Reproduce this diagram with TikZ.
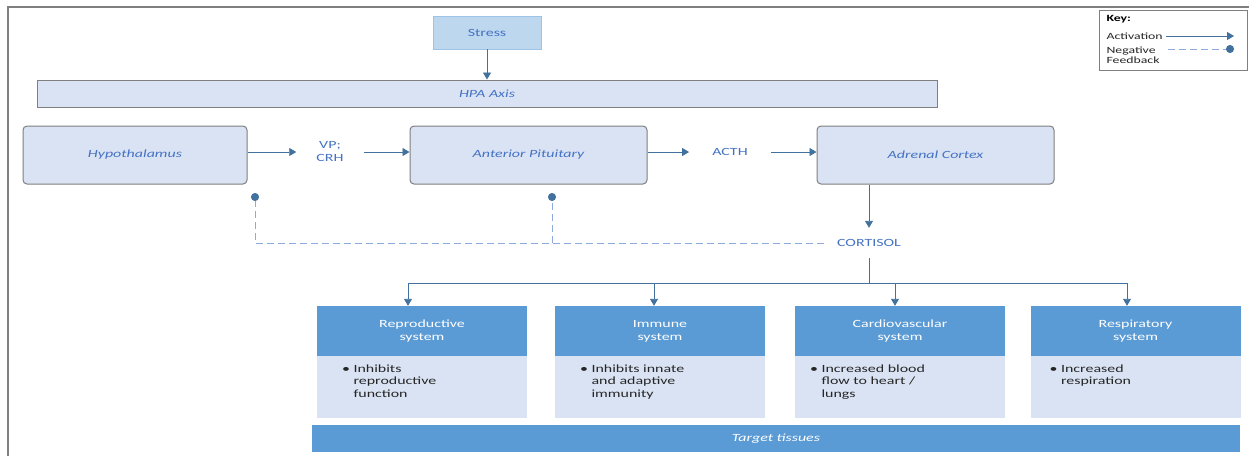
\documentclass[tikz,border=0pt]{standalone}
\usepackage{fontspec}
\setmainfont{Carlito}[FakeStretch=1.45]
\usepackage{tikz}
\usetikzlibrary{positioning}
\usetikzlibrary{arrows.meta}
\definecolor{txtblue}{HTML}{4472C4}
\definecolor{arrblue}{HTML}{41719C}
\definecolor{paleblue}{HTML}{DAE3F3}
\definecolor{stressblue}{HTML}{BDD7EE}
\definecolor{stressline}{HTML}{9DC3E6}
\definecolor{midblue}{HTML}{5B9BD5}
\definecolor{dashblue}{HTML}{8FAADC}
\definecolor{boxgray}{HTML}{7F7F7F}

\begin{document}
\begin{tikzpicture}[x=1pt, y=-1pt, font=\fontsize{11}{13}\selectfont]
		\tikzstyle{organ}=[rectangle, rounded corners=4pt, fill=paleblue, draw=boxgray, line width=1pt, minimum width=237pt, minimum height=58pt, text=txtblue, font=\fontsize{11}{13}\selectfont\itshape]
		\tikzstyle{act}=[draw=arrblue, line width=0.9pt, -{Triangle[length=7pt,width=8pt]}]
		\tikzstyle{feedback}=[draw=dashblue, line width=0.9pt, dash pattern=on 7pt off 4pt, -{Circle[length=8pt,width=8pt,color=arrblue]}]
		\tikzstyle{hormone}=[text=txtblue, align=center]
		\tikzstyle{head}=[rectangle, fill=midblue, minimum width=210pt, minimum height=50pt, text=white, align=center]
		\tikzstyle{body}=[rectangle, fill=paleblue, minimum width=210pt, minimum height=62pt]
		\tikzstyle{bullets}=[anchor=north west, inner sep=0pt, text=black!85, align=left, font=\fontsize{11}{12.5}\selectfont]
		\useasboundingbox (0,0) rectangle (1249,456);
		\draw[boxgray, line width=1.2pt] (1249,7) -- (8,7) -- (8,456);

		\node[rectangle, fill=stressblue, draw=stressline, line width=0.8pt, minimum width=108pt, minimum height=33pt, text=txtblue] (stress) at (487,32.5) {Stress};
		\node[rectangle, fill=paleblue, draw=boxgray, line width=1pt, minimum width=900pt, minimum height=27pt, text=txtblue, font=\fontsize{11}{13}\selectfont\itshape] (hpa) at (487,93.5) {HPA Axis};
		\path (stress) edge[act] (hpa);

		\node[organ, minimum width=224pt] (hypo) at (135,155) {Hypothalamus};
		\node[organ] (antpit) at (528.5,155) {Anterior Pituitary};
		\node[organ] (adrenal) at (935.5,155) {Adrenal Cortex};
		\node[hormone, inner xsep=20pt] (vp) at (330,152) {VP;\\CRH};
		\node[hormone, inner xsep=23pt] (acth) at (730,152) {ACTH};
		\path (hypo.east |- vp) edge[act] (vp.west);
		\path (vp.east) edge[act] (vp.east -| antpit.west);
		\path (antpit.east |- acth) edge[act] (acth.west);
		\path (acth.east) edge[act] (acth.east -| adrenal.west);

		\node[hormone, inner xsep=13pt, minimum height=30pt] (cortisol) at (869,243) {CORTISOL};
		\path (adrenal.south -| cortisol) edge[act] (cortisol.north);

		%negative feedback
		\coordinate (fb1) at (255,193);
		\coordinate (fb2) at (552,193);
		\draw[feedback] (cortisol.west) -| (fb1);
		\draw[feedback] (fb2 |- cortisol) -- (fb2);

		%target systems
		\node[head] (reprohead) at (422,331) {Reproductive\\system};
		\node[body, below=0pt of reprohead] (reprobody) {};
		\node[bullets] (reprotext) at ([xshift=25pt,yshift=-7pt]reprobody.north west) {\textbullet~\begin{tabular}[t]{@{}l@{}}Inhibits\\reproductive\\function\end{tabular}};

		\node[head] (immunehead) at (660,331) {Immune\\system};
		\node[body, below=0pt of immunehead] (immunebody) {};
		\node[bullets] (immunetext) at ([xshift=25pt,yshift=-7pt]immunebody.north west) {\textbullet~\begin{tabular}[t]{@{}l@{}}Inhibits innate\\and adaptive\\immunity\end{tabular}};

		\node[head] (cardiohead) at (900,331) {Cardiovascular\\system};
		\node[body, below=0pt of cardiohead] (cardiobody) {};
		\node[bullets] (cardiotext) at ([xshift=15pt,yshift=-7pt]cardiobody.north west) {\textbullet~\begin{tabular}[t]{@{}l@{}}Increased blood\\flow to heart /\\lungs\end{tabular}};

		\node[head] (resphead) at (1135.5,331) {Respiratory\\system};
		\node[body, below=0pt of resphead] (respbody) {};
		\node[bullets] (resptext) at ([xshift=19pt,yshift=-7pt]respbody.north west) {\textbullet~\begin{tabular}[t]{@{}l@{}}Increased\\respiration\end{tabular}};

		\coordinate (split) at (869,283);
		\coordinate (b1) at (408,283);
		\coordinate (b2) at (654,283);
		\coordinate (b3) at (895,283);
		\coordinate (b4) at (1127,283);
		\draw[arrblue, line width=0.9pt] (cortisol.south) -- (split);
		\draw[arrblue, line width=0.9pt] (b1) -- (b4);
		\path (b1) edge[act] (b1 |- reprohead.north);
		\path (b2) edge[act] (b2 |- immunehead.north);
		\path (b3) edge[act] (b3 |- cardiohead.north);
		\path (b4) edge[act] (b4 |- resphead.north);

		\node[rectangle, fill=midblue, minimum width=928pt, minimum height=27pt, text=white, font=\fontsize{11}{13}\selectfont\itshape] (target) at (776,438.5) {Target tissues};

		%key
		\node[rectangle, draw=boxgray, line width=1pt, fill=white, minimum width=148pt, minimum height=60pt] (key) at (1173,40) {};
		\node[anchor=west, font=\fontsize{9.5}{10}\selectfont\bfseries] (keytitle) at (1103,19) {Key:};
		\node[anchor=west, text=black!85, font=\fontsize{9.5}{10}\selectfont] (keyact) at (1103,36) {Activation};
		\node[anchor=north west, align=left, text=black!85, font=\fontsize{9.5}{10}\selectfont] (keyneg) at (1103,43) {Negative\\Feedback};
		\coordinate (actend) at (1234,36);
		\coordinate (negstart) at (1168,49);
		\coordinate (negend) at (1234,49);
		\path (keyact.east) edge[act] (actend);
		\draw[feedback] (negstart) -- (negend);
\end{tikzpicture}
\end{document}
